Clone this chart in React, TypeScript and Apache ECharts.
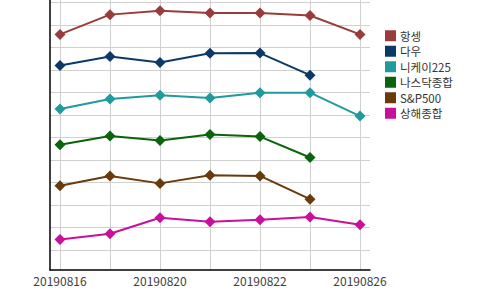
import React, { useEffect, useRef } from "react";
import * as echarts from "echarts";

const dates = ["20190816", "20190819", "20190820", "20190821", "20190822", "20190823", "20190826"];
const seriesNames = ["항셍", "다우", "니케이225", "나스닥종합", "S&P500", "상해종합"];
const seriesColors = ["#993c3c", "#0c3a68", "#1f9a9e", "#0b640b", "#693a0c", "#c8109c"];
const hangseng = [10.47, 11.35, 11.52, 11.42, 11.42, 11.31, 10.47];
const dow = [9.09, 9.49, 9.22, 9.63, 9.64, 8.66, null];
const nikkei = [7.16, 7.6, 7.77, 7.64, 7.88, 7.88, 6.84];
const nasdaq = [5.57, 5.96, 5.76, 6.02, 5.93, 5.0, null];
const sp500 = [3.74, 4.18, 3.85, 4.21, 4.18, 3.15, null];
const shanghai = [1.36, 1.61, 2.32, 2.14, 2.23, 2.36, 2.01];
const seriesData = [hangseng, dow, nikkei, nasdaq, sp500, shanghai];
const xTickIdx = [0, 1, 2, 3, 4, 5, 6];
const xLabelIdx = [0, 2, 4, 6];
const yGridValues = [0.88, 1.88, 2.88, 3.88, 4.88, 5.88, 6.88, 7.88, 8.88, 9.88, 10.88, 11.88];

export default function App() {
  const ref = useRef<HTMLDivElement>(null);
  useEffect(() => {
    document.body.style.margin = "0";
    if (!ref.current) return;
    const chart = echarts.init(ref.current, null, { renderer: "svg" });
    const font = "'Noto Sans CJK KR', 'Noto Sans', sans-serif";
    chart.setOption({
      animation: false,
      textStyle: { fontFamily: font },
      grid: { left: 50, right: 130, top: -3, bottom: 20, containLabel: false },
      legend: {
        orient: "vertical",
        left: 380,
        top: 25,
        icon: "rect",
        itemWidth: 11,
        itemHeight: 11,
        itemGap: 4,
        data: seriesNames,
        textStyle: { fontSize: 11.5, color: "#333", fontFamily: font, lineHeight: 11, padding: [0, 0, 0, -1] },
      },
      xAxis: {
        type: "value",
        min: -0.2,
        max: 6.2,
        axisLine: { show: true, onZero: false, lineStyle: { color: "#000", width: 1.5 } },
        axisTick: { show: false, customValues: xTickIdx },
        splitLine: { show: true, lineStyle: { color: "#d0d0d0", width: 1 } },
        axisLabel: {
          customValues: xLabelIdx,
          formatter: (v: number) => dates[Math.round(v)],
          fontSize: 12,
          color: "#404040",
          margin: 4,
          fontFamily: font,
        },
      },
      yAxis: {
        type: "value",
        min: 0,
        max: 12,
        axisLine: { show: true, onZero: false, lineStyle: { color: "#000", width: 1.5 } },
        axisTick: { show: false, customValues: yGridValues },
        axisLabel: { show: false },
        splitLine: { show: true, lineStyle: { color: "#d0d0d0", width: 1 } },
      },
      series: seriesNames.map((name, i) => ({
        name,
        type: "line",
        data: seriesData[i].map((v, j) => [xTickIdx[j], v]),
        symbol: "diamond",
        symbolSize: 11,
        showSymbol: true,
        showAllSymbol: true,
        lineStyle: { color: seriesColors[i], width: 2 },
        itemStyle: { color: seriesColors[i] },
        connectNulls: false,
      })),
    });
    return () => chart.dispose();
  }, []);
  return <div ref={ref} style={{ width: 500, height: 290 }} />;
}
